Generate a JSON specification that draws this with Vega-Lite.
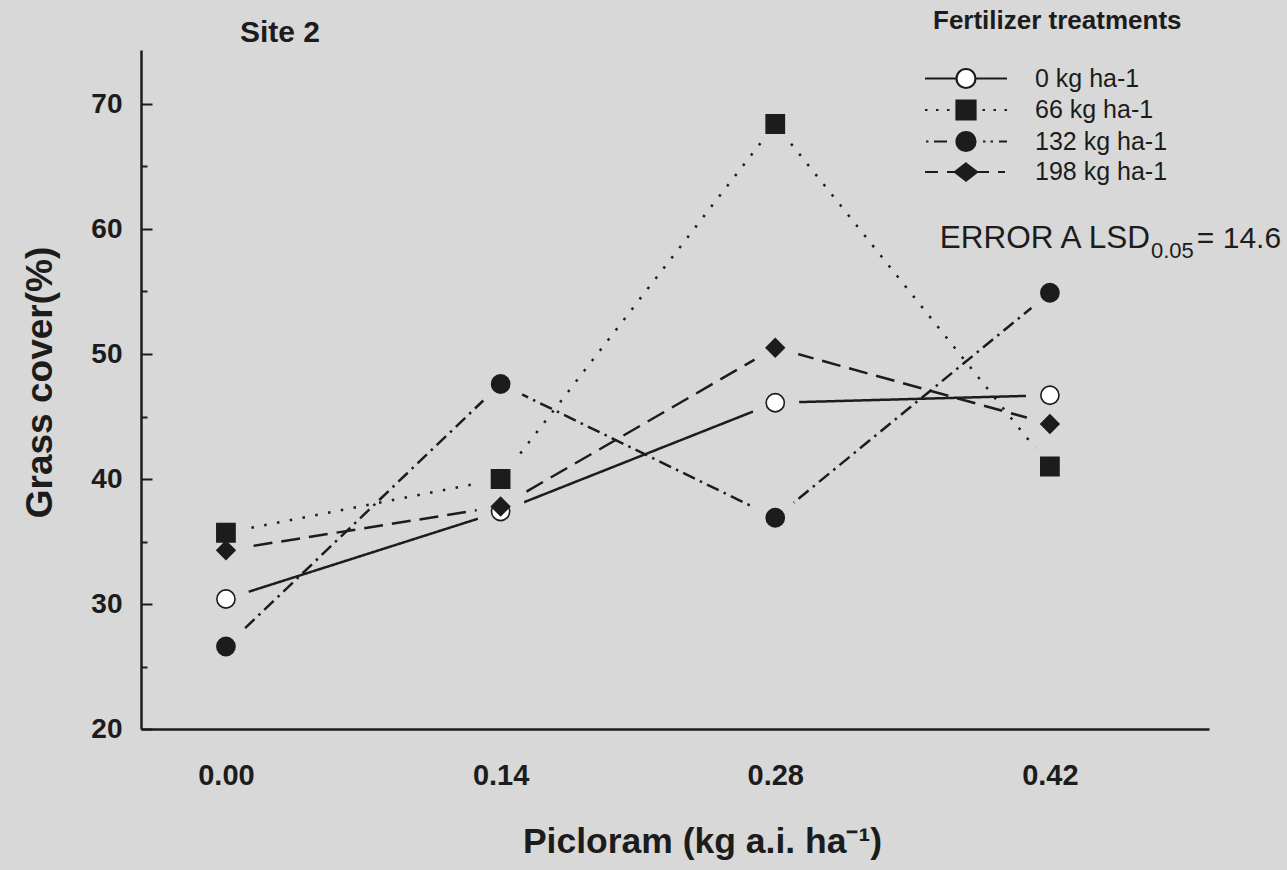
{
  "$schema": "https://vega.github.io/schema/vega-lite/v6.json",
  "width": 1068,
  "height": 679,
  "autosize": "none",
  "padding": {"left": 141, "top": 50, "right": 78, "bottom": 141},
  "background": "#d8d8d8",
  "config": {"view": {"stroke": null}, "font": "Liberation Sans"},
  "data": {
    "values": [
      {"picloram": 0.00, "treatment": "0 kg ha-1", "cover": 30.4},
      {"picloram": 0.14, "treatment": "0 kg ha-1", "cover": 37.4},
      {"picloram": 0.28, "treatment": "0 kg ha-1", "cover": 46.1},
      {"picloram": 0.42, "treatment": "0 kg ha-1", "cover": 46.7},
      {"picloram": 0.00, "treatment": "66 kg ha-1", "cover": 35.7},
      {"picloram": 0.14, "treatment": "66 kg ha-1", "cover": 40.0},
      {"picloram": 0.28, "treatment": "66 kg ha-1", "cover": 68.4},
      {"picloram": 0.42, "treatment": "66 kg ha-1", "cover": 41.0},
      {"picloram": 0.00, "treatment": "132 kg ha-1", "cover": 26.6},
      {"picloram": 0.14, "treatment": "132 kg ha-1", "cover": 47.6},
      {"picloram": 0.28, "treatment": "132 kg ha-1", "cover": 36.9},
      {"picloram": 0.42, "treatment": "132 kg ha-1", "cover": 54.9},
      {"picloram": 0.00, "treatment": "198 kg ha-1", "cover": 34.3},
      {"picloram": 0.14, "treatment": "198 kg ha-1", "cover": 37.8},
      {"picloram": 0.28, "treatment": "198 kg ha-1", "cover": 50.5},
      {"picloram": 0.42, "treatment": "198 kg ha-1", "cover": 44.4}
    ]
  },
  "layer": [
    {
      "mark": {"type": "line", "strokeWidth": 2.5, "color": "#1c1c1c"},
      "encoding": {
        "x": {
          "field": "picloram", "type": "quantitative",
          "scale": {"domain": [-0.0433, 0.5011], "nice": false, "zero": false},
          "axis": {
            "values": [0, 0.14, 0.28, 0.42], "format": ".2f", "ticks": false, "grid": false,
            "domainWidth": 2.5, "domainColor": "#1c1c1c",
            "labelFont": "Liberation Sans", "labelFontSize": 29, "labelFontWeight": "bold", "labelColor": "#1c1c1c",
            "labelPadding": 32, "labelFlush": false,
            "title": "Picloram (kg a.i. ha⁻¹)", "titleFont": "Liberation Sans", "titleFontSize": 35.5, "titleFontWeight": "bold", "titleColor": "#1c1c1c",
            "titleX": 561, "titleY": 123, "titleAlign": "center", "titleBaseline": "alphabetic"
          }
        },
        "y": {
          "field": "cover", "type": "quantitative",
          "scale": {"domain": [20, 74.32], "nice": false, "zero": false},
          "axis": {
            "values": [20, 25, 30, 35, 40, 45, 50, 55, 60, 65, 70],
            "labelExpr": "datum.value % 10 == 0 ? datum.label : ''",
            "tickSize": {"condition": {"test": "datum.value % 10 == 0", "value": -11}, "value": -6},
            "tickWidth": 2, "tickColor": "#1c1c1c", "grid": false,
            "domainWidth": 2.5, "domainColor": "#1c1c1c",
            "labelFont": "Liberation Sans", "labelFontSize": 28, "labelFontWeight": "bold", "labelColor": "#1c1c1c",
            "labelPadding": 30,
            "title": "Grass cover(%)", "titleFont": "Liberation Sans", "titleFontSize": 37, "titleFontWeight": "bold", "titleColor": "#1c1c1c",
            "titleX": -101, "titleY": 332, "titleAngle": 270, "titleAlign": "center", "titleBaseline": "middle"
          }
        },
        "detail": {"field": "treatment", "type": "nominal"},
        "strokeDash": {
          "condition": [
            {"test": "datum.treatment == '66 kg ha-1'", "value": [2.5, 10.5]},
            {"test": "datum.treatment == '132 kg ha-1'", "value": [13, 5.5, 2.5, 5.5]},
            {"test": "datum.treatment == '198 kg ha-1'", "value": [19, 9]}
          ],
          "value": [1, 0]
        }
      }
    },
    {
      "mark": {"type": "point", "filled": true, "shape": "circle", "size": 2300, "color": "#d8d8d8", "opacity": 1},
      "encoding": {
        "x": {"field": "picloram", "type": "quantitative"},
        "y": {"field": "cover", "type": "quantitative"}
      }
    },
    {
      "mark": {"type": "point", "filled": true, "size": 330, "stroke": "#1c1c1c", "strokeWidth": 1.6, "opacity": 1},
      "encoding": {
        "x": {"field": "picloram", "type": "quantitative"},
        "y": {"field": "cover", "type": "quantitative"},
        "fill": {"condition": {"test": "datum.treatment == '0 kg ha-1'", "value": "#ffffff"}, "value": "#1c1c1c"},
        "shape": {
          "condition": [
            {"test": "datum.treatment == '66 kg ha-1'", "value": "square"},
            {"test": "datum.treatment == '198 kg ha-1'", "value": "diamond"}
          ],
          "value": "circle"
        }
      }
    },
    {
      "mark": {"type": "point", "filled": true, "opacity": 0},
      "encoding": {
        "x": {"field": "picloram", "type": "quantitative"},
        "y": {"field": "cover", "type": "quantitative"},
        "shape": {
          "field": "treatment", "type": "nominal",
          "scale": {
            "domain": ["0 kg ha-1", "66 kg ha-1", "132 kg ha-1", "198 kg ha-1"],
            "range": [
              "M-4.1,0H-0.95M0.95,0H4.1M0.95,0C0.95,0.525,0.525,0.95,0,0.95C-0.525,0.95,-0.95,0.525,-0.95,0C-0.95,-0.525,-0.525,-0.95,0,-0.95C0.525,-0.95,0.95,-0.525,0.95,0Z",
              "M-4.1,0H-3.85M-3.0,0H-2.75M-1.9,0H-1.65M1.65,0H1.9M2.75,0H3.0M3.85,0H4.1M-0.95,-0.95H0.95V0.95H-0.95Z",
              "M-4.0,0H-3.75M-3.2,0H-1.9M1.7,0H1.95M2.45,0H2.7M3.3,0H4.1M0.95,0C0.95,0.525,0.525,0.95,0,0.95C-0.525,0.95,-0.95,0.525,-0.95,0C-0.95,-0.525,-0.525,-0.95,0,-0.95C0.525,-0.95,0.95,-0.525,0.95,0Z",
              "M-4.1,0H-2.8M-1.9,0H-1.1M1.1,0H2.3M3.2,0H3.9M0,-0.85L1.1,0L0,0.85L-1.1,0Z"
            ]
          },
          "legend": {
            "title": "Fertilizer treatments",
            "orient": "none", "legendX": 784, "legendY": -42, "padding": 0,
            "titleFont": "Liberation Sans", "titleFontSize": 26, "titleFontWeight": "bold", "titleColor": "#1c1c1c", "titlePadding": 32, "titleLimit": 500,
            "labelFont": "Liberation Sans", "labelFontSize": 25, "labelColor": "#1c1c1c", "labelOffset": 56.5, "labelLimit": 300,
            "symbolSize": 400, "symbolOffset": 28.5, "symbolStrokeWidth": 2.2, "symbolStrokeColor": "#1c1c1c", "symbolOpacity": 1,
            "rowPadding": 2.5,
            "encoding": {
              "symbols": {
                "fill": {"condition": {"test": "datum.value == '0 kg ha-1'", "value": "#ffffff"}, "value": "#1c1c1c"},
                "stroke": {"value": "#1c1c1c"},
                "strokeWidth": {"value": 2.2},
                "opacity": {"value": 1}
              },
              "title": {"dx": {"value": 8}}
            }
          }
        }
      }
    },
    {
      "data": {"values": [{}]},
      "mark": {"type": "text", "text": "Site 2", "align": "left", "baseline": "alphabetic", "font": "Liberation Sans", "fontSize": 30, "fontWeight": "bold", "color": "#1c1c1c"},
      "encoding": {
        "x": {"datum": 0.00714, "type": "quantitative"},
        "y": {"datum": 74.96, "type": "quantitative"}
      }
    },
    {
      "data": {"values": [{}]},
      "mark": {"type": "text", "text": "ERROR A LSD", "align": "left", "baseline": "alphabetic", "font": "Liberation Sans", "fontSize": 31.5, "color": "#1c1c1c"},
      "encoding": {
        "x": {"datum": 0.3639, "type": "quantitative"},
        "y": {"datum": 58.48, "type": "quantitative"}
      }
    },
    {
      "data": {"values": [{}]},
      "mark": {"type": "text", "text": "0.05", "align": "left", "baseline": "alphabetic", "font": "Liberation Sans", "fontSize": 22, "color": "#1c1c1c"},
      "encoding": {
        "x": {"datum": 0.4715, "type": "quantitative"},
        "y": {"datum": 57.68, "type": "quantitative"}
      }
    },
    {
      "data": {"values": [{}]},
      "mark": {"type": "text", "text": "= 14.6", "align": "left", "baseline": "alphabetic", "font": "Liberation Sans", "fontSize": 30, "color": "#1c1c1c"},
      "encoding": {
        "x": {"datum": 0.4949, "type": "quantitative"},
        "y": {"datum": 58.48, "type": "quantitative"}
      }
    }
  ]
}
